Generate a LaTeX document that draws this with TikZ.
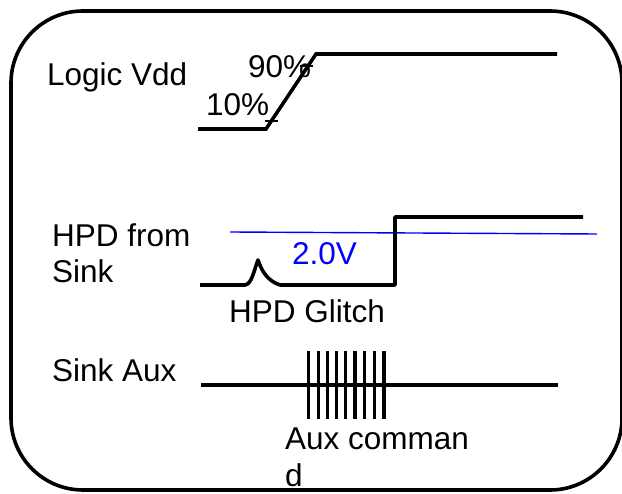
\documentclass[tikz,border=0pt]{standalone}
\usepackage{fontspec}
\setmainfont{Liberation Sans}
\begin{document}
\begin{tikzpicture}[x=1pt,y=-1pt,
  lbl/.style={anchor=base west,inner sep=0pt,font=\fontsize{31.5}{36}\selectfont},
  wave/.style={line width=3.6pt,black},
  tick/.style={line width=2.6pt,black},
  thresh/.style={line width=1.4pt,blue}]
\useasboundingbox (0,0) rectangle (622,494);
\draw[line width=3.6pt,rounded corners=72pt] (11,11) rectangle (622,490);
% Logic Vdd
\node[lbl] (lvdd) at (47,86) {Logic Vdd};
\node[lbl] (p90) at (248,78) {90\%};
\node[lbl] (p10) at (206,116) {10\%};
\coordinate (v0) at (198,129);
\coordinate (v1) at (266,129);
\coordinate (v2) at (316,54);
\coordinate (v3) at (557,54);
\draw[wave] (v0) -- (v1) -- (v2) -- (v3);
\draw[tick] (265,121) -- (278,121);
\draw[tick] (300,66) -- (313,66);
% HPD
\node[lbl] (hpd1) at (52,247) {HPD from};
\node[lbl] (hpd2) at (52,283) {Sink};
\draw[thresh] (230,232) -- (597,234);
\node[lbl,text=blue] (th) at (292,265) {2.0V};
\draw[wave,line join=round] (200,285) -- (245,285)
  .. controls (252,284) and (254,270) .. (258,260)
  .. controls (262,272) and (268,281) .. (280,285)
  -- (395,285) -- (395,217) -- (583,217);
\node[lbl] (glitch) at (229,323) {HPD Glitch};
% Sink Aux
\node[lbl] (saux) at (52,382) {Sink Aux};
\draw[wave] (201,385) -- (558,385);
\foreach \xx in {308.3,318.3,327.7,336.7,345.7,355,364.3,374.3,384}
  \draw[line width=3.4pt] (\xx,351) -- (\xx,419);
\node[lbl] (cmd1) at (285,450) {Aux comman};
\node[lbl] (cmd2) at (285,487) {d};
\end{tikzpicture}
\end{document}
